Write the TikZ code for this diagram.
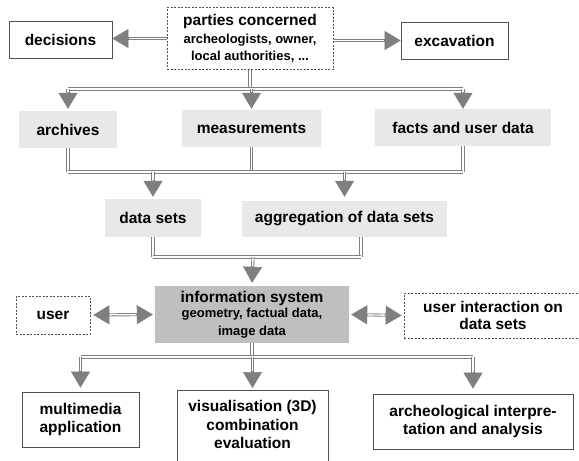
\documentclass[tikz,border=0pt]{standalone}
\usepackage{fontspec}
\setmainfont{Liberation Sans}
\usetikzlibrary{arrows.meta,calc}
\definecolor{arrgray}{HTML}{7F7F7F}
\definecolor{boxgray}{HTML}{E8E8E8}
\definecolor{sysgray}{HTML}{BFBFBF}
\definecolor{edgegray}{HTML}{505050}
\newcommand{\mainfnt}{\fontsize{15.5}{18.5}\selectfont\bfseries}
\newcommand{\subfnt}{\fontsize{13}{15.5}\selectfont\bfseries}
% double shaft plus a filled head
\newcommand{\dblarrow}[2]{\draw [dbl,shorten >=15pt] #1 -- #2;
  \draw [tip] ($#2!17pt!#1$) -- #2;}
\newcommand{\dblboth}[2]{\draw [dbl,shorten <=15pt,shorten >=15pt] #1 -- #2;
  \draw [tip] ($#1!17pt!#2$) -- #1;
  \draw [tip] ($#2!17pt!#1$) -- #2;}
\begin{document}
\begin{tikzpicture}[x=1pt,y=-1pt]
\tikzstyle{every node}+=[inner sep=0pt,font=\mainfnt,align=center]
\tikzstyle{plain}=[draw=edgegray,line width=0.7pt,fill=white]
\tikzstyle{dashbox}=[draw=edgegray,line width=0.7pt,dash pattern=on 2pt off 1.5pt,fill=white]
\tikzstyle{greybox}=[fill=boxgray]
\tikzstyle{sysbox}=[fill=sysgray]
\tikzstyle{dbl}=[draw=arrgray,line width=0.9pt,double=white,double distance=1.3pt]
\tikzstyle{tip}=[draw=arrgray,line width=0.6pt,-{Triangle[length=16pt,width=19pt,fill=arrgray]}]
\useasboundingbox (0,0) rectangle (579,461);
% top row
\node [plain,minimum width=103pt,minimum height=37pt] (decisions) at (60.5,39.5) {decisions};
\node [dashbox,minimum width=166pt,minimum height=62pt] (parties) at (250,38.5) {parties concerned\\[-1pt]{\subfnt archeologists, owner,}\\[-1pt]{\subfnt local authorities, ...}};
\node [plain,minimum width=107pt,minimum height=37pt] (excavation) at (454.5,40.5) {excavation};
% data sources
\node [greybox,minimum width=98pt,minimum height=37pt] (archives) at (68,129.5) {archives};
\node [greybox,minimum width=139pt,minimum height=37pt] (measurements) at (251.5,128.5) {measurements};
\node [greybox,minimum width=176pt,minimum height=37pt] (facts) at (463,127.5) {facts and user data};
\node [greybox,minimum width=96pt,minimum height=38pt] (datasets) at (153,218) {data sets};
\node [greybox,minimum width=205pt,minimum height=36pt] (aggregation) at (344.5,219) {aggregation of data sets};
% system row
\node [sysbox,minimum width=194pt,minimum height=57pt] (infosys) at (252,314.5) {information system\\[-3pt]{\subfnt geometry, factual data,}\\[-1pt]{\subfnt image data}};
\node [dashbox,minimum width=74pt,minimum height=38pt] (user) at (53,315) {user};
\node [dashbox,minimum width=178pt,minimum height=45pt] (interaction) at (493,315.5) {user interaction on\\[-2pt]data sets};
% results
\node [plain,minimum width=117pt,minimum height=55pt] (multimedia) at (80.5,419.5) {multimedia\\application};
\node [plain,minimum width=151pt,anchor=north,inner ysep=10pt] (visual) at (252.5,390) {visualisation (3D)\\combination\\evaluation\\[10pt]\mbox{}};
\node [plain,minimum width=200pt,minimum height=55pt] (archeo) at (473,421.5) {archeological interpre-\\tation and analysis};
% bus points
\coordinate (bus1) at (251,89);
\coordinate (bus2) at (251,172);
\coordinate (bus3) at (253,257);
\coordinate (bus4) at (253,357);
\coordinate (aggout) at ($(aggregation.south)+(16.5,0)$);
% connectors
\dblarrow{(parties.west)}{(parties.west -| decisions.east)}
\dblarrow{(parties.east |- excavation.west)}{(excavation.west)}
\draw [dbl] (parties.south) -- (parties.south |- bus1);
\draw [dbl] (archives.north |- bus1) -- (facts.north |- bus1);
\dblarrow{(archives.north |- bus1)}{([yshift=2pt]archives.north)}
\dblarrow{(measurements.north |- bus1)}{([yshift=1pt]measurements.north)}
\dblarrow{(facts.north |- bus1)}{(facts.north)}
\draw [dbl] (archives.south) -- (archives.south |- bus2);
\draw [dbl] (measurements.south) -- (measurements.south |- bus2);
\draw [dbl] (facts.south) -- (facts.south |- bus2);
\draw [dbl] (archives.south |- bus2) -- (facts.south |- bus2);
\dblarrow{(datasets.north |- bus2)}{([yshift=2pt]datasets.north)}
\dblarrow{(aggregation.north |- bus2)}{([yshift=4pt]aggregation.north)}
\draw [dbl] (datasets.south) -- (datasets.south |- bus3);
\draw [dbl] (aggout) -- (aggout |- bus3);
\draw [dbl] (datasets.south |- bus3) -- (aggout |- bus3);
\dblarrow{(bus3)}{([yshift=3pt]infosys.north)}
\dblboth{([xshift=3pt]user.east)}{([xshift=-2pt]infosys.west)}
\dblboth{([xshift=2pt]infosys.east)}{([xshift=-2pt]interaction.west)}
\draw [dbl] (infosys.south) -- (infosys.south |- bus4);
\draw [dbl] (multimedia.north |- bus4) -- (archeo.north |- bus4);
\dblarrow{(multimedia.north |- bus4)}{([yshift=4pt]multimedia.north)}
\dblarrow{(visual.north |- bus4)}{([yshift=2pt]visual.north)}
\dblarrow{(archeo.north |- bus4)}{([yshift=5pt]archeo.north)}
\end{tikzpicture}
\end{document}
